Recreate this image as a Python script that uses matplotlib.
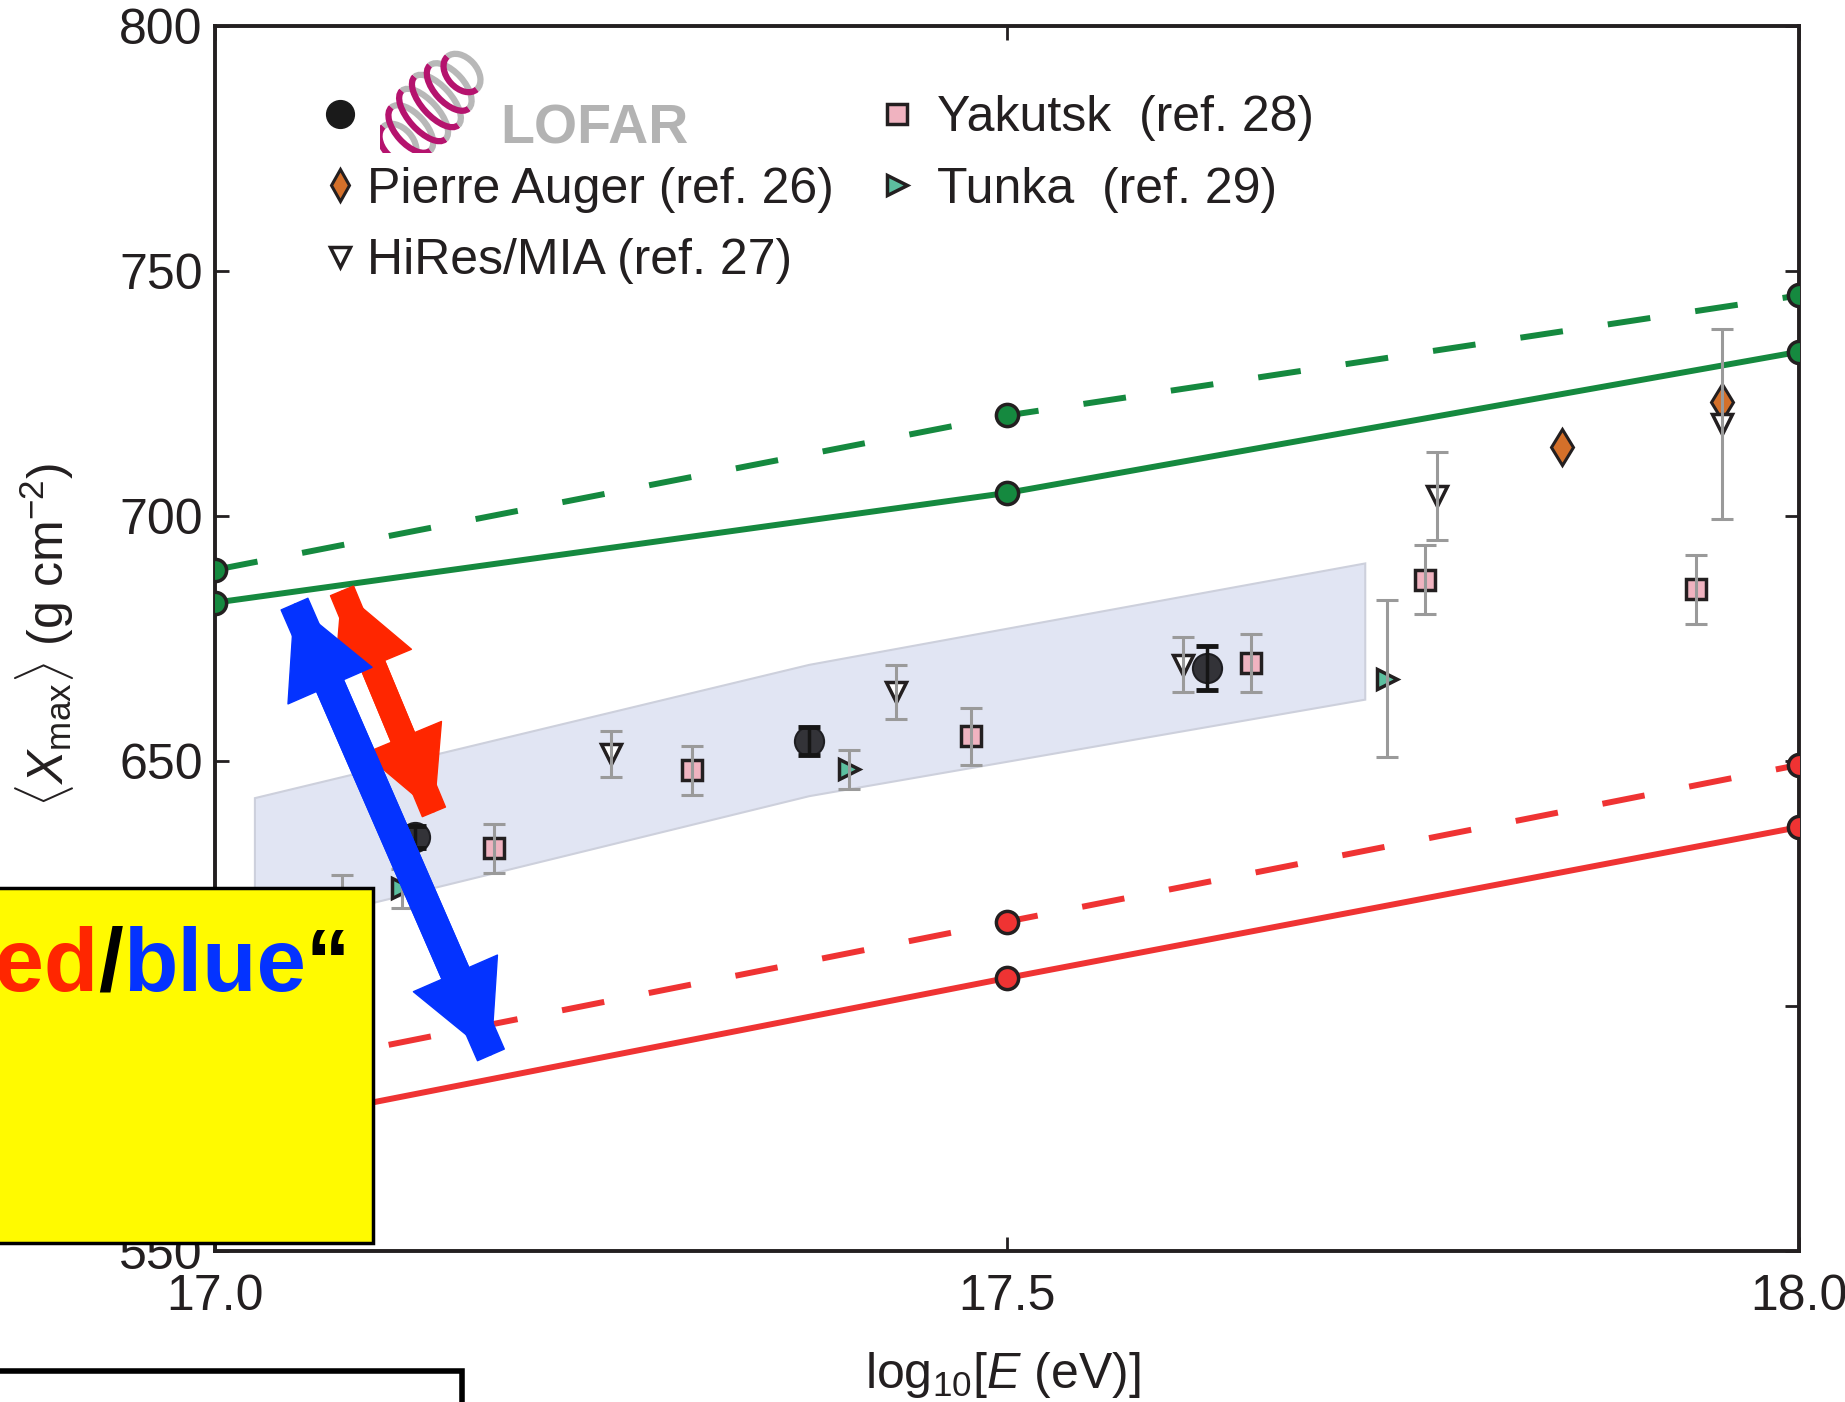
import matplotlib
matplotlib.use('Agg')
import matplotlib.pyplot as plt
from matplotlib.lines import Line2D
from matplotlib.patches import Polygon, Rectangle, FancyArrowPatch, Arc

plt.rcParams['font.family'] = ['Liberation Sans', 'DejaVu Sans']
plt.rcParams['mathtext.fontset'] = 'custom'
plt.rcParams['mathtext.rm'] = 'Liberation Sans'
plt.rcParams['mathtext.it'] = 'Liberation Sans:italic'
plt.rcParams['mathtext.bf'] = 'Liberation Sans:bold'

# model predictions (proton / iron, two hadronic models)
model_x = [17.0, 17.5, 18.0]
green_dashed = [689.0, 720.5, 745.0]
green_solid = [682.3, 704.7, 733.5]
red_dashed = [585.0, 617.2, 649.2]
red_solid = [574.0, 605.7, 636.5]

# LOFAR band
band_x = [17.025, 17.375, 17.726]
band_upper = [642.4, 669.6, 690.3]
band_lower = [615.1, 642.8, 662.5]

# measurements
lofar_x = [17.126, 17.375, 17.626]
lofar_y = [634.5, 654.1, 668.9]
lofar_err = [2.3, 2.9, 4.5]

yakutsk_x = [17.176, 17.301, 17.477, 17.654, 17.764, 17.935]
yakutsk_y = [632.2, 648.1, 655.0, 670.0, 687.0, 685.0]
yakutsk_err = [5.0, 5.0, 5.8, 6.0, 7.0, 7.0]

hires_x = [17.080, 17.250, 17.430, 17.611, 17.771, 17.951]
hires_y = [621.7, 651.4, 664.0, 669.6, 704.1, 718.7]
hires_err = [5.0, 4.6, 5.5, 5.6, 9.0, 19.4]

auger_x = [17.850, 17.951]
auger_y = [714.1, 723.3]

tunka_x = [17.118, 17.400, 17.740]
tunka_y = [624.0, 648.3, 666.8]
tunka_err = [4.0, 4.0, 16.0]

# annotation arrows (data coords, tip to tip)
red_arrow = [(17.080, 684.7), (17.138, 639.6)]
blue_arrow = [(17.050, 682.0), (17.174, 590.0)]

x_ticks = [17.0, 17.5, 18.0]
x_ticklabels = ['17.0', '17.5', '18.0']
y_ticks = [550, 600, 650, 700, 750, 800]

GREEN = '#15893f'
RED = '#ef3333'
GREY = '#9a9a9a'
DARK = '#231f20'

fig = plt.figure(figsize=(18.45, 14.02), dpi=100)
ax = fig.add_axes([0.1167, 0.1078, 0.8585, 0.8737])

# band
poly = Polygon(list(zip(band_x, band_upper)) + list(zip(band_x[::-1], band_lower[::-1])),
               closed=True, fc='#e1e5f3', ec='#cdd0dc', lw=1.5, zorder=1)
ax.add_patch(poly)

# model lines
lkw = dict(lw=4.3, marker='o', ms=16, mec=DARK, mew=2.5, zorder=3)
ax.plot(model_x, green_dashed, color=GREEN, mfc=GREEN, dashes=(7.2, 7.6), **lkw)
ax.plot(model_x, green_solid, color=GREEN, mfc=GREEN, **lkw)
ax.plot(model_x, red_dashed, color=RED, mfc=RED, dashes=(7.2, 7.6), **lkw)
ax.plot(model_x, red_solid, color=RED, mfc=RED, **lkw)

# markers
ax.plot(auger_x, auger_y, ls='none', marker='d', ms=18, mfc='#d4702a', mec=DARK, mew=2.2, zorder=4)
ax.plot(hires_x, hires_y, ls='none', marker='v', ms=15, mfc='white', mec=DARK, mew=2.5, zorder=4)
ax.plot(yakutsk_x, yakutsk_y, ls='none', marker='s', ms=14, mfc='#f0b3c0', mec=DARK, mew=2.5, zorder=4)
ax.plot(tunka_x, tunka_y, ls='none', marker='>', ms=14, mfc='#5cbf9f', mec=DARK, mew=2.5, zorder=4)
ax.plot(lofar_x, lofar_y, ls='none', marker='o', ms=21, mfc='#333338', mec='#1e1e22', mew=1.5, zorder=4)

# error bars on top of markers
ekw = dict(fmt='none', ecolor=GREY, elinewidth=2.2, capsize=8, capthick=2.2, zorder=5)
ax.errorbar(hires_x, hires_y, yerr=hires_err, **ekw)
ax.errorbar(yakutsk_x, yakutsk_y, yerr=yakutsk_err, **ekw)
ax.errorbar(tunka_x, tunka_y, yerr=tunka_err, **ekw)
ax.errorbar(lofar_x, lofar_y, yerr=lofar_err, fmt='none', ecolor='#151515',
            elinewidth=2.5, capsize=8, capthick=3.5, zorder=5)

# arrows
arrow_styles = [(red_arrow, '#ff2600', 'simple,head_length=58,head_width=60,tail_width=18'),
                (blue_arrow, '#0433ff', 'simple,head_length=64,head_width=66,tail_width=21')]
for (p0, p1), col, style in arrow_styles:
    for a, b in [(p0, p1), (p1, p0)]:
        ax.add_patch(FancyArrowPatch(a, b, arrowstyle=style, mutation_scale=1, color=col,
                                     shrinkA=0, shrinkB=0, zorder=6))

ax.set_xlim(17.0, 18.0)
ax.set_ylim(550, 800)
ax.set_xticks(x_ticks)
ax.set_xticklabels(x_ticklabels)
ax.set_yticks(y_ticks)
ax.tick_params(direction='in', top=True, right=True, length=10, width=2, colors=DARK, labelsize=36)
ax.tick_params(axis='x', pad=17)
ax.tick_params(axis='y', pad=9)
for s in ax.spines.values():
    s.set_linewidth(2.8)
    s.set_color(DARK)

ax.set_xlabel(r'log$_{10}$[$E$ (eV)]', fontsize=36, color=DARK)
ax.set_ylabel(r'$\langle X_{\mathrm{max}}\rangle$ (g cm$^{-2}$)', fontsize=36, color=DARK)
ax.xaxis.set_label_coords(0.497, -0.081)
ax.yaxis.set_label_coords(-0.088, 0.503)

# legend
handles = [
    Line2D([], [], ls='none', marker='o', ms=20, mfc='#1a1a1a', mec='#1a1a1a'),
    Line2D([], [], ls='none', marker='d', ms=16, mfc='#d4702a', mec=DARK, mew=2.2),
    Line2D([], [], ls='none', marker='v', ms=14, mfc='white', mec=DARK, mew=2.5),
    Line2D([], [], ls='none', marker='s', ms=14, mfc='#f0b3c0', mec=DARK, mew=2.5),
    Line2D([], [], ls='none', marker='>', ms=14, mfc='#5cbf9f', mec=DARK, mew=2.5),
]
labels = [' ', 'Pierre Auger (ref. 26)', 'HiRes/MIA (ref. 27)',
          ' Yakutsk  (ref. 28)', ' Tunka  (ref. 29)']
leg = ax.legend(handles, labels, loc='upper left', bbox_to_anchor=(0.0708, 0.9434), ncol=2,
                frameon=False, fontsize=36, handlelength=0.5, handletextpad=0.3,
                columnspacing=1.0, labelspacing=0.51, borderpad=0, borderaxespad=0)
for t in leg.get_texts():
    t.set_color(DARK)

# LOFAR logo
lax = fig.add_axes([380 / 1845, (1402 - 153) / 1402, 105 / 1845, 103 / 1402])
lax.set_xlim(0, 105)
lax.set_ylim(0, 103)
lax.axis('off')
n_rings = 6
for i in range(n_rings):
    t = i / (n_rings - 1)
    cx = 18 + t * 64
    cy = 10 + t * 70
    w = 44 + 22 * (1 - (2 * t - 1) ** 2)
    lax.add_patch(Arc((cx, cy), w, 30, angle=-48, theta1=0, theta2=180, color='#b8b8b8', lw=4.5))
    lax.add_patch(Arc((cx, cy), w, 30, angle=-48, theta1=180, theta2=360, color='#b5136e', lw=4.5))
fig.text(500 / 1845, (1402 - 143) / 1402, 'LOFAR', fontsize=40, fontweight='bold',
         color='#b3b3b3', ha='left', va='baseline')

# overlay boxes
fig.add_artist(Rectangle((-0.01, (1402 - 1243) / 1402), 373 / 1845 + 0.01, (1243 - 888) / 1402,
                         transform=fig.transFigure, fc='#fffa00', ec='black', lw=2.5, zorder=10))
fig.add_artist(Rectangle((-0.01, -0.1), 462 / 1845 + 0.01, (1402 - 1371) / 1402 + 0.1,
                         transform=fig.transFigure, fc='white', ec='black', lw=4, zorder=10))

pieces = [('\u201e', 'black'), ('red', '#ff2600'), ('/', 'black'), ('blue', '#0433ff'), ('\u201c', 'black')]
renderer = fig.canvas.get_renderer()
x_cur = 350
y_base = (1402 - 991) / 1402
for txt, col in reversed(pieces):
    tt = fig.text(x_cur / 1845, y_base, txt, fontsize=64, fontweight='bold', color=col,
                  ha='right', va='baseline', zorder=11)
    x_cur -= tt.get_window_extent(renderer).width

fig.savefig('out.png', dpi=100)
